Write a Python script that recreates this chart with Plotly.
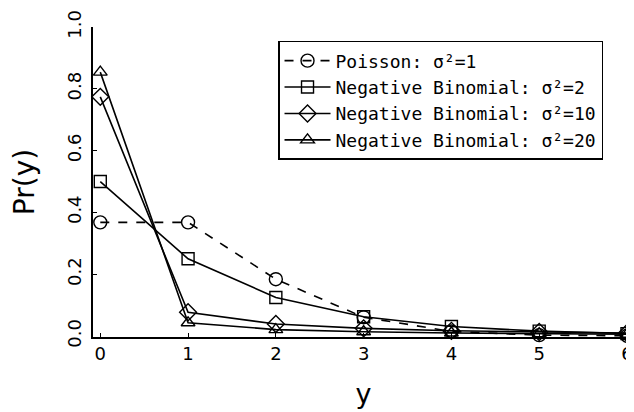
import plotly.graph_objects as go

y_vals = [0, 1, 2, 3, 4, 5, 6]
poisson = [0.368, 0.368, 0.184, 0.061, 0.015, 0.003, 0.001]
nb_var2 = [0.500, 0.250, 0.125, 0.0625, 0.031, 0.016, 0.008]
nb_var10 = [0.774, 0.077, 0.039, 0.025, 0.017, 0.013, 0.010]
nb_var20 = [0.854, 0.043, 0.021, 0.014, 0.010, 0.008, 0.006]

x_ticks = [0, 1, 2, 3, 4, 5, 6]
y_ticks = [0.0, 0.2, 0.4, 0.6, 0.8, 1.0]
y_tick_labels = ["0.0", "0.2", "0.4", "0.6", "0.8", "1.0"]

series = [
    ("Poisson: σ²=1", poisson, "circle-open", "dash", 13),
    ("Negative Binomial: σ²=2", nb_var2, "square-open", "solid", 12),
    ("Negative Binomial: σ²=10", nb_var10, "diamond-open", "solid", 13),
    ("Negative Binomial: σ²=20", nb_var20, "triangle-up-open", "solid", 12),
]

FONT = "DejaVu Sans"
LEGEND_FONT = "DejaVu Sans Mono"
fig = go.Figure()
for name, vals, sym, dash, size in series:
    fig.add_trace(go.Scatter(
        x=y_vals, y=vals, name=name, mode="lines+markers",
        line=dict(color="black", width=1.6, dash=dash),
        marker=dict(symbol=sym, size=size, color="black", line=dict(width=1.4, color="black")),
        cliponaxis=False,
    ))

# the page body adds an 8px offset; margins compensate for it
fig.update_layout(
    width=634, height=412,
    margin=dict(l=85, r=8, t=19, b=83),
    paper_bgcolor="white", plot_bgcolor="white",
    font=dict(family=FONT, color="black", size=18),
    showlegend=True,
    legend=dict(
        x=0.342, y=0.955, xanchor="left", yanchor="top",
        bordercolor="black", borderwidth=1.5, bgcolor="white",
        font=dict(family=LEGEND_FONT, size=18, color="black"),
        tracegroupgap=0, itemwidth=46,
    ),
    xaxis=dict(
        range=[-0.083, 6.08], tickvals=x_ticks, ticktext=[str(v) for v in x_ticks],
        showgrid=False, zeroline=False, showline=True, linecolor="black", linewidth=1.5,
        ticks="inside", ticklen=4, tickcolor="black", ticklabeloverflow="allow",
        tickfont=dict(family=FONT, size=18), automargin=False,
        title=dict(text="y", font=dict(family=FONT, size=27), standoff=21),
    ),
    yaxis=dict(
        range=[-0.003, 1.0], tickvals=y_ticks, ticktext=y_tick_labels,
        showgrid=False, zeroline=False, showline=True, linecolor="black", linewidth=1.5,
        ticks="inside", ticklen=4, tickcolor="black", tickangle=-90, ticklabelstandoff=3,
        tickfont=dict(family=FONT, size=18), automargin=False,
        title=dict(text="Pr(y)", font=dict(family=FONT, size=28), standoff=22),
    ),
)

fig.write_html("out.html")
